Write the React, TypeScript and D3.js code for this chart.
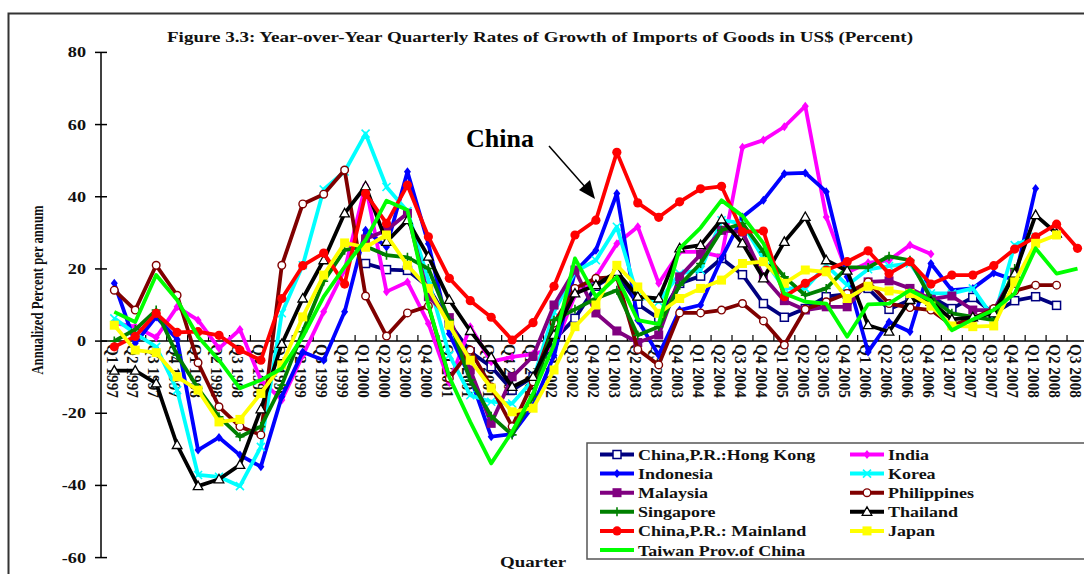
import React from "react";
import * as d3 from "d3";

// quarters on the x axis
const quarters = [
  "Q1 1997", "Q2 1997", "Q3 1997", "Q4 1997",
  "Q1 1998", "Q2 1998", "Q3 1998", "Q4 1998",
  "Q1 1999", "Q2 1999", "Q3 1999", "Q4 1999",
  "Q1 2000", "Q2 2000", "Q3 2000", "Q4 2000",
  "Q1 2001", "Q2 2001", "Q3 2001", "Q4 2001",
  "Q1 2002", "Q2 2002", "Q3 2002", "Q4 2002",
  "Q1 2003", "Q2 2003", "Q3 2003", "Q4 2003",
  "Q1 2004", "Q2 2004", "Q3 2004", "Q4 2004",
  "Q1 2005", "Q2 2005", "Q3 2005", "Q4 2005",
  "Q1 2006", "Q2 2006", "Q3 2006", "Q4 2006",
  "Q1 2007", "Q2 2007", "Q3 2007", "Q4 2007",
  "Q1 2008", "Q2 2008", "Q3 2008",
];

const yTicks = [-60, -40, -20, 0, 20, 40, 60, 80];

const _ = null;

const hongKong = [_, _, _, _, _, _, _, _, _, _, _, _,
  21.5, 19.8, 19.6, 15, 5, -3, -7.1, -13.6, -9.9, 0.3, 6.3, 15.2, 18.7, 10.2, 6.3, 16,
  18, 22.9, 18.4, 10.4, 6.6, 9, 12.3, 13, 14.6, 8.8, 11.4, 12.3, 9, 12.1, 7.7, 11.2, 12.3, 9.9, _];
const india = [5, 4, 1, 9.5, 5.8, -2, 3.2, -10.8, -16.3, -4, 8.1, 19.7, 43.2, 13.7, 16.4, 4.9,
  -11.5, 4, -5.7, -4.4, -3.6, -2, 12.7, 17.8, 27, 31.7, 16, 24.7, 24.7, 23.4, 53.7, 55.7,
  59.4, 65.1, 34.4, 19, 21.7, 22.4, 26.6, 24.1, _, _, _, _, _, _, _];
const indonesia = [16, -0.6, 6.7, 0.5, -30.2, -26.7, -31.6, -34.8, -15.4, -3, -5.3, 8.1, 30.7, 26.1, 46.9, 27,
  2, -10, -26.5, -25.8, -18, -4, 19.2, 25.2, 40.9, 5.8, -3.9, 8.6, 10, 22.9, 34.4, 39,
  46.4, 46.6, 41.4, 17.8, -3, 5.3, 2.6, 21.5, 14.1, 14.6, 18.9, 16.9, 42.3, _, _];
const korea = [6.3, 2.1, -1.6, -13.6, -37.1, -37.6, -40.2, -29.3, 7.7, 21, 42, 47, 57.5, 42.7, 36, 16.9,
  -3.9, -15, -16.8, -17.3, -10.8, 8.1, 19.2, 22.4, 31.7, 12.3, 10.9, 18.7, 19.7, 33.5, 32.6, 22.9,
  14.6, 14.6, 21, 15.5, 19.9, 20.8, 21.5, 13.2, 13.2, 14.6, 6.3, 26.6, 28.9, _, _];
const malaysia = [_, _, _, _, _, _, _, _, _, _, _, _,
  28.3, 30.7, 35.4, 12.3, 6.5, -8, -22.8, -9.9, -4.2, 10, 19.7, 7.8, 2.8, -0.4, 1.7, 17.8,
  24, 30.7, 30.2, 17.8, 11.2, 8.6, 9.5, 9.5, 16.4, 16.7, 14.6, 11.6, 12.5, 8.6, 8.6, 18.7, _, _, _];
const philippines = [14.1, 8.6, 21, 12.7, -6, -18.2, -23.7, -26, 21, 38, 40.7, 47.4, 12.5, 1.4, 7.8, 9.7,
  -10.3, -2.5, -12.7, -23.7, -11.3, 5, 14.6, 17.4, 17.8, -2.3, -6.6, 7.8, 7.8, 8.6, 10.4, 5.6,
  -1.1, 8.8, 10.9, 13.2, 16.4, 10.4, 9.3, 8.6, 4.4, 6.3, 9, 13.9, 15.5, 15.5, _];
const singapore = [0, 3.2, 8.6, -3.9, -13.1, -21, -26.5, -23.7, -12.2, 2.6, 16.6, 25.2, 26.3, 23.8, 23.2, 20.1,
  5.8, -10.8, -20.8, -26, -15.4, 5.8, 8.8, 11.8, 14.1, 1.6, 4, 15.5, 21.5, 30.7, 32.6, 24.7,
  17.8, 12.7, 14.6, 20.4, 20.4, 23.5, 22.4, 11.8, 7.7, 6.7, 5.8, 20.1, _, _, _];
const thailand = [-8.2, -8.2, -11.7, -28.8, -40.2, -38.3, -34.3, -18.9, -0.8, 11.8, 22.4, 35.4, 42.9, 27.5, 33.5, 23.4,
  11.4, 2.8, -4.5, -12.7, -9.9, 1.7, 13.2, 15.5, 19.2, 12.3, 11.8, 25.7, 26.6, 33.7, 27.1, 17.4,
  27.5, 34.4, 22.4, 19.5, 4.4, 2.6, 11.4, 10.9, 6, 6.6, 7.7, 18.7, 34.9, 29.8, _];
const mainland = [-1.6, 1.3, 7.7, 2.4, 2.6, 1.6, -2.5, -5.3, 11.8, 20.9, 24.4, 15.8, 40.9, 32.6, 43.2, 28.9,
  17.4, 11.2, 6.6, 0.3, 5.1, 15.2, 29.4, 33.5, 52.3, 38.3, 34.3, 38.6, 42.2, 42.9, 30.3, 30.5,
  12.3, 16, 19.7, 22, 25, 18.7, 22, 15.8, 18.3, 18.3, 20.9, 25.5, 28.9, 32.4, 25.7];
const japan = [4.4, -2.5, -3.2, -9.9, -13.6, -22.4, -21.7, -14.5, -6.6, 6.7, 18.3, 27.2, 26, 29.4, 21, 14.6,
  4.4, -5.3, -13, -19.6, -18.6, -8, 4, 10, 21, 15, 7.7, 11.8, 14.6, 16.9, 21.5, 22,
  16, 19.7, 19.2, 11.8, 15.2, 13.9, 13.2, 9.7, 4.2, 4, 4.2, 16.4, 27.1, 29.4, _];
const taiwan = [8.1, 5.3, 18.3, 11.4, 1.2, -5.3, -13.1, -10.8, -7.6, 1.2, 12.3, 20.6, 28, 38.9, 36.3, 10,
  -10, -22.4, -33.9, -25.1, -14.5, -1, 22.9, 12.3, 17.8, 5.8, 4.7, 25.7, 31.4, 39, 34.7, 27.1,
  13.2, 10.9, 10.4, 1.2, 10.2, 10.4, 14.1, 11.2, 3, 6, 8.6, 13.2, 25.7, 18.7, 20.1];

const series = [
  { name: "China,P.R.:Hong Kong", values: hongKong, color: "#000080", marker: "squareOpen" },
  { name: "India", values: india, color: "#ff00ff", marker: "diamond" },
  { name: "Indonesia", values: indonesia, color: "#0000ff", marker: "diamond" },
  { name: "Korea", values: korea, color: "#00ffff", marker: "x" },
  { name: "Malaysia", values: malaysia, color: "#800080", marker: "square" },
  { name: "Philippines", values: philippines, color: "#800000", marker: "circleOpen" },
  { name: "Singapore", values: singapore, color: "#008000", marker: "plus" },
  { name: "Thailand", values: thailand, color: "#000000", marker: "triangleOpen" },
  { name: "China,P.R.: Mainland", values: mainland, color: "#ff0000", marker: "circle" },
  { name: "Japan", values: japan, color: "#ffff00", marker: "square" },
  { name: "Taiwan Prov.of China", values: taiwan, color: "#00ff00", marker: "none" },
];

const W = 1084;
const H = 574;
const FONT = "'Liberation Serif', 'Times New Roman', serif";

const x = d3.scalePoint<string>().domain(quarters).range([114.3, 1077.5]);
const y = d3.scaleLinear().domain([-60, 80]).range([557.6, 52.4]);
const step = x.step();

function Marker({ type, cx, cy, color }: { type: string; cx: number; cy: number; color: string }) {
  switch (type) {
    case "squareOpen":
      return <rect x={cx - 4} y={cy - 4} width={8} height={8} fill="#fff" stroke={color} strokeWidth={1.5} />;
    case "square":
      return <rect x={cx - 4.5} y={cy - 4.5} width={9} height={9} fill={color} />;
    case "diamond":
      return <path d={`M${cx},${cy - 4.5}L${cx + 3.5},${cy}L${cx},${cy + 4.5}L${cx - 3.5},${cy}Z`} fill={color} />;
    case "x":
      return <path d={`M${cx - 4},${cy - 4}L${cx + 4},${cy + 4}M${cx - 4},${cy + 4}L${cx + 4},${cy - 4}`} stroke={color} strokeWidth={1.6} />;
    case "plus":
      return <path d={`M${cx - 4.5},${cy}L${cx + 4.5},${cy}M${cx},${cy - 4.5}L${cx},${cy + 4.5}`} stroke={color} strokeWidth={1.6} />;
    case "circleOpen":
      return <circle cx={cx} cy={cy} r={3.8} fill="#fff" stroke={color} strokeWidth={1.4} />;
    case "circle":
      return <circle cx={cx} cy={cy} r={4.6} fill={color} />;
    case "triangleOpen":
      return <path d={`M${cx},${cy - 5}L${cx + 4.8},${cy + 3.5}L${cx - 4.8},${cy + 3.5}Z`} fill="#fff" stroke={color} strokeWidth={1.3} />;
    default:
      return null;
  }
}

export default function App() {
  const line = d3
    .line<number | null>()
    .defined((d) => d !== null)
    .x((_d, i) => x(quarters[i]) as number)
    .y((d) => y(d as number));

  const legendRows = [454.5, 473.6, 492.7, 511.8, 530.9, 550];

  return (
    <svg width={W} height={H} style={{ position: "absolute", left: 0, top: 0, background: "#fff" }} fontFamily={FONT}>
      <rect x={0} y={0} width={W} height={H} fill="#fff" />
      {/* outer frame */}
      <rect x={8.5} y={13.5} width={1100} height={600} fill="none" stroke="#333" strokeWidth={2} />

      {/* title */}
      <text x={167} y={42} fontSize={14} fontWeight="bold" textLength={746} lengthAdjust="spacingAndGlyphs" fill="#111">
        Figure 3.3: Year-over-Year Quarterly Rates of Growth of Imports of Goods in US$ (Percent)
      </text>

      {/* y axis */}
      <line x1={101} x2={101} y1={y(80)} y2={y(-60)} stroke="#000" strokeWidth={1.5} />
      {yTicks.map((t) => (
        <g key={t}>
          <line x1={95} x2={107} y1={y(t)} y2={y(t)} stroke="#000" strokeWidth={1.5} />
          <text transform={`translate(86,${y(t) + 5}) scale(1.3,1)`} textAnchor="end" fontSize={14} fontWeight="bold" fill="#111">
            {t}
          </text>
        </g>
      ))}
      <text transform={`translate(43,290) scale(1.3,1) rotate(-90)`} textAnchor="middle" fontSize={12.7} fontWeight="bold" fill="#111">
        Annualized Percent per annum
      </text>

      {/* x axis */}
      <line x1={101} x2={W} y1={y(0)} y2={y(0)} stroke="#000" strokeWidth={1.5} />
      {quarters.map((q) => (
        <line key={"t" + q} x1={(x(q) as number) + step / 2} x2={(x(q) as number) + step / 2} y1={y(0) - 6} y2={y(0)} stroke="#000" strokeWidth={1.2} />
      ))}
      {quarters.map((q) => (
        <text key={"l" + q} transform={`translate(${(x(q) as number) - 2.5},344) scale(1.12,1) rotate(90)`} dominantBaseline="central" fontSize={15.3} fontWeight="bold" fill="#111">
          {q}
        </text>
      ))}
      <text transform="translate(533,567) scale(1.35,1)" textAnchor="middle" fontSize={14} fontWeight="bold" fill="#111">
        Quarter
      </text>

      {/* series */}
      {series.map((s) => (
        <g key={s.name}>
          <path d={line(s.values) || ""} fill="none" stroke={s.color} strokeWidth={3.8} strokeLinejoin="round" />
          {s.values.map((v, i) =>
            v === null ? null : <Marker key={i} type={s.marker} cx={x(quarters[i]) as number} cy={y(v)} color={s.color} />
          )}
        </g>
      ))}

      {/* annotation */}
      <text x={466} y={147} fontSize={26} fontWeight="bold" fill="#000">China</text>
      <line x1={549} y1={146} x2={586} y2={188} stroke="#000" strokeWidth={1.5} />
      <path d="M595,199 L579,190 L590,180 Z" fill="#000" />

      {/* legend */}
      <rect x={587} y={443} width={520} height={116} fill="#fff" stroke="#555" strokeWidth={1.5} />
      {series.map((s, i) => {
        const col = i % 2;
        const row = Math.floor(i / 2);
        const lx = col === 0 ? 600 : 850;
        const ly = legendRows[row];
        return (
          <g key={"lg" + s.name}>
            <line x1={lx} x2={lx + 34} y1={ly} y2={ly} stroke={s.color} strokeWidth={4} />
            <Marker type={s.marker} cx={lx + 17} cy={ly} color={s.color} />
            <text transform={`translate(${lx + 38},${ly + 5.5}) scale(1.2,1)`} fontSize={15} fontWeight="bold" fill="#111">
              {s.name}
            </text>
          </g>
        );
      })}
    </svg>
  );
}
